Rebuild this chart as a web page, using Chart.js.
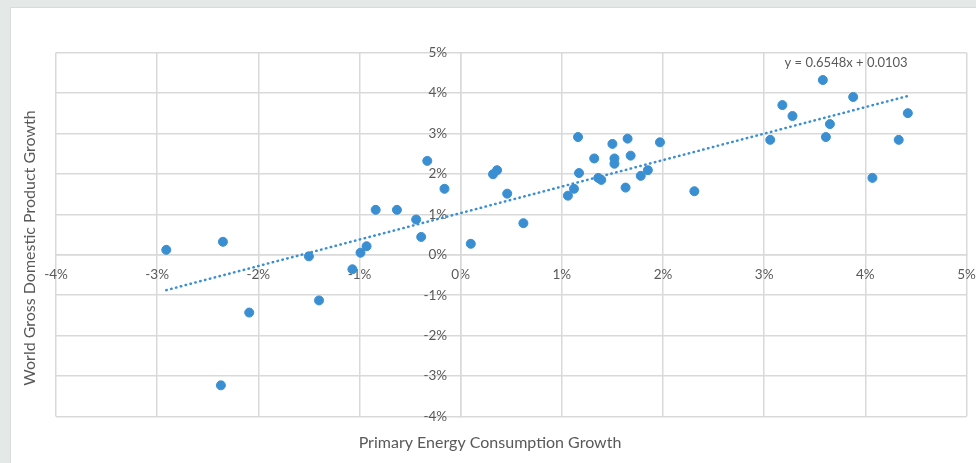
<!DOCTYPE html>
<html>
<head>
<meta charset="utf-8">
<script src="https://cdn.jsdelivr.net/npm/chart.js@4.4.1/dist/chart.umd.min.js"></script>
<style>
  html, body { margin: 0; padding: 0; background: #e4e8e6; }
  #panel { position: absolute; left: 10px; top: 7px; right: 0; bottom: 0; background: #fff; border-left: 1px solid #d6dedb; border-top: 1px solid #d6dedb; }
  #wrap { position: absolute; left: 0; top: 0; width: 976px; height: 463px; }
</style>
</head>
<body>
<div id="panel"></div>
<div id="wrap"><canvas id="chart"></canvas></div>
<script>
// energy consumption growth (%) vs world GDP growth (%), one pair per year
const energyGrowth = [
  -2.91, -2.35, -1.50, -2.09, -1.40, -2.37, -1.07, -0.99, -0.93, -0.84,
  -0.63, -0.44, -0.39, -0.33, -0.16, 0.10, 0.32, 0.36, 0.46, 0.62,
  1.06, 1.12, 1.16, 1.17, 1.32, 1.36, 1.39, 1.50, 1.52, 1.52,
  1.65, 1.68, 1.63, 1.78, 1.85, 1.97, 2.31, 3.06, 3.18, 3.28,
  3.58, 3.61, 3.65, 3.88, 4.07, 4.33, 4.42
];
const gdpGrowth = [
  0.12, 0.32, -0.04, -1.43, -1.13, -3.23, -0.36, 0.05, 0.21, 1.11,
  1.11, 0.87, 0.44, 2.32, 1.63, 0.27, 1.99, 2.09, 1.51, 0.78,
  1.46, 1.63, 2.91, 2.02, 2.38, 1.90, 1.85, 2.74, 2.38, 2.25,
  2.87, 2.45, 1.66, 1.95, 2.09, 2.78, 1.57, 2.84, 3.70, 3.43,
  4.32, 2.91, 3.23, 3.90, 1.90, 2.84, 3.50
];
const trendSlope = 0.6548;
const trendIntercept = 0.0103;   // as a fraction, i.e. 1.03 %
const trendLabel = 'y = 0.6548x + 0.0103';
const axisTicks = { min: -4, max: 5, step: 1 };

const points = energyGrowth.map((x, i) => ({ x: x, y: gdpGrowth[i] }));
const xMin = Math.min(...energyGrowth);
const xMax = Math.max(...energyGrowth);
const trend = [xMin, xMax].map(x => ({ x: x, y: trendSlope * x + trendIntercept * 100 }));

const textGrey = '#595959';
const gridGrey = '#d9d9d9';
const blue = '#3a8fd2';
const fontFamily = 'Lato, "Open Sans", sans-serif';

// axis titles and the trendline equation
const labelsPlugin = {
  id: 'labels',
  afterDraw(chart) {
    const ctx = chart.ctx;
    const xs = chart.scales.x, ys = chart.scales.y;
    ctx.save();
    ctx.fillStyle = textGrey;
    ctx.textAlign = 'center';
    ctx.textBaseline = 'middle';
    ctx.font = '13px ' + fontFamily;
    ctx.fillText(trendLabel, xs.getPixelForValue(3.81), ys.getPixelForValue(4.74));
    ctx.font = '16px ' + fontFamily;
    ctx.fillText('Primary Energy Consumption Growth', 490, 443);
    ctx.translate(30, 248);
    ctx.rotate(-Math.PI / 2);
    ctx.fillText('World Gross Domestic Product Growth', 0, 0);
    ctx.restore();
  }
};

new Chart(document.getElementById('chart'), {
  type: 'scatter',
  data: {
    datasets: [{
      data: points,
      backgroundColor: blue,
      borderColor: blue,
      pointRadius: 4.5,
      pointHoverRadius: 4.5,
      order: 1
    }, {
      type: 'line',
      data: trend,
      borderColor: blue,
      borderWidth: 2.5,
      borderDash: [0.5, 4.5],
      borderCapStyle: 'round',
      pointRadius: 0,
      fill: false,
      order: 2
    }]
  },
  options: {
    responsive: true,
    maintainAspectRatio: false,
    animation: false,
    layout: { padding: { left: 56, top: 52.5, right: 9.5, bottom: 46.5 } },
    plugins: { legend: { display: false }, tooltip: { enabled: false } },
    scales: {
      x: {
        type: 'linear',
        position: { y: 0 },
        min: axisTicks.min, max: axisTicks.max,
        afterFit(scale) { scale.paddingLeft = 0; scale.paddingRight = 0; },
        ticks: {
          stepSize: axisTicks.step,
          color: textGrey,
          font: { family: fontFamily, size: 13.5 },
          padding: 12,
          callback: v => v + '%'
        },
        grid: { color: gridGrey, lineWidth: 1.5, drawTicks: false },
        border: { color: gridGrey, width: 1.5 }
      },
      y: {
        type: 'linear',
        position: { x: 0 },
        min: axisTicks.min, max: axisTicks.max,
        ticks: {
          stepSize: axisTicks.step,
          color: textGrey,
          font: { family: fontFamily, size: 13.5 },
          // centred y axis ignores tick padding, so pad the label text instead
          callback: v => v + '%\u2002\u2002'
        },
        grid: { color: gridGrey, lineWidth: 1.5, drawTicks: false },
        border: { color: gridGrey, width: 1.5 }
      }
    }
  },
  plugins: [labelsPlugin]
});
</script>
</body>
</html>
